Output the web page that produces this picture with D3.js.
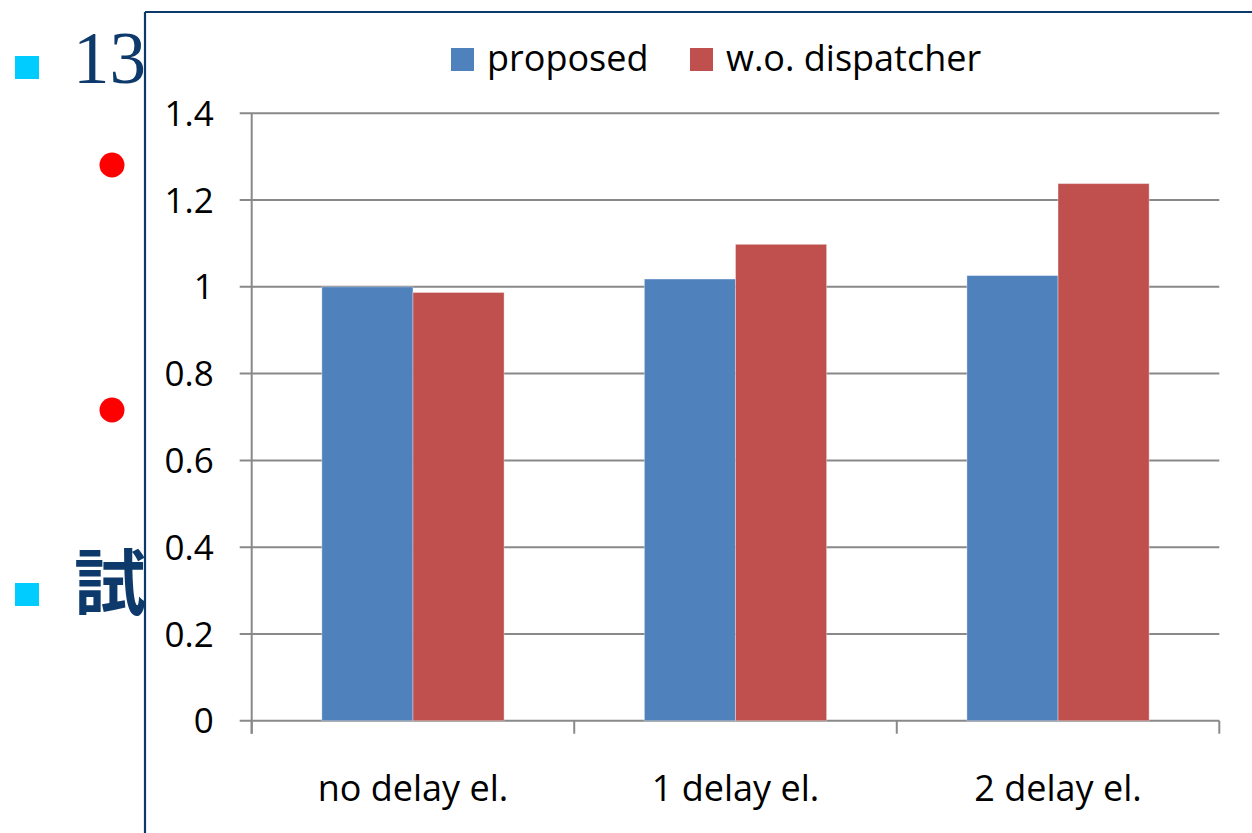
<!DOCTYPE html>
<html>
<head>
<meta charset="utf-8">
<script src="https://cdn.jsdelivr.net/npm/d3@7"></script>
<style>
  html, body { margin: 0; padding: 0; background: #fff; }
  svg { display: block; }
</style>
</head>
<body>
<svg id="slide" width="1252" height="833"></svg>
<script>
// Relative runtime per configuration
const categories = ["no delay el.", "1 delay el.", "2 delay el."];
const seriesNames = ["proposed", "w.o. dispatcher"];
const proposed = [1.0, 1.018, 1.026];
const woDispatcher = [0.987, 1.098, 1.238];
const yTicks = [0, 0.2, 0.4, 0.6, 0.8, 1, 1.2, 1.4];
const yTickLabels = ["0", "0.2", "0.4", "0.6", "0.8", "1", "1.2", "1.4"];
const seriesColors = ["#4F81BD", "#C0504D"];

const svg = d3.select("#slide");
const navy = "#0E3A6B";
const latin = "'Open Sans', 'Noto Sans', sans-serif";

// Slide bullets and text behind the chart frame
svg.append("rect").attr("x", 15).attr("y", 56).attr("width", 24).attr("height", 23).attr("fill", "#00CCFF");
svg.append("rect").attr("x", 15).attr("y", 583).attr("width", 24).attr("height", 23).attr("fill", "#00CCFF");
svg.append("circle").attr("cx", 112).attr("cy", 165).attr("r", 12.5).attr("fill", "#FF0000");
svg.append("circle").attr("cx", 112).attr("cy", 410).attr("r", 12.5).attr("fill", "#FF0000");
svg.append("text").attr("x", 73).attr("y", 83)
  .attr("font-family", "'Liberation Serif', 'DejaVu Serif', serif")
  .attr("font-size", 73).attr("fill", navy).text("13");
svg.append("text").attr("x", 74).attr("y", 609)
  .attr("font-family", "'Noto Sans CJK JP', 'Noto Sans CJK SC', sans-serif")
  .attr("font-weight", "bold")
  .attr("font-size", 72).attr("fill", navy).text("試");

// Chart frame
const frame = svg.append("g");
frame.append("rect").attr("x", 145).attr("y", 12).attr("width", 1252 - 145).attr("height", 833 - 12).attr("fill", "#fff");
frame.append("line").attr("x1", 145).attr("x2", 1252).attr("y1", 12).attr("y2", 12)
  .attr("stroke", navy).attr("stroke-width", 2.2);
frame.append("line").attr("x1", 145).attr("x2", 145).attr("y1", 12).attr("y2", 833)
  .attr("stroke", navy).attr("stroke-width", 2.2);

// Plot area
const plotLeft = 251.7, plotRight = 1219.3, plotTop = 113.3, plotBottom = 720.7;
const gridColor = "#898989";

const y = d3.scaleLinear().domain([0, 1.4]).range([plotBottom, plotTop]);
const x0 = d3.scaleBand().domain(categories).range([plotLeft, plotRight]).paddingInner(0).paddingOuter(0);
const x1 = d3.scaleBand().domain(seriesNames).range([0, x0.bandwidth()]).paddingInner(0).paddingOuter(0.77);

const plot = svg.append("g");

// Horizontal gridlines with short outer ticks
plot.selectAll("line.grid").data(yTicks).join("line")
  .attr("class", "grid")
  .attr("x1", plotLeft - 12).attr("x2", plotRight)
  .attr("y1", d => y(d)).attr("y2", d => y(d))
  .attr("stroke", gridColor).attr("stroke-width", 2);

// Vertical axis line
plot.append("line").attr("x1", plotLeft).attr("x2", plotLeft)
  .attr("y1", y(1.4)).attr("y2", plotBottom + 13)
  .attr("stroke", gridColor).attr("stroke-width", 2);

// Y tick labels
plot.selectAll("text.ylab").data(yTicks).join("text")
  .attr("class", "ylab")
  .attr("x", plotLeft - 38).attr("y", d => y(d))
  .attr("dy", "0.36em")
  .attr("text-anchor", "end")
  .attr("font-family", latin).attr("font-size", 35).attr("fill", "#000")
  .text((d, i) => yTickLabels[i]);

// X category boundary ticks
const boundaries = categories.map(c => x0(c)).concat([x0(categories[categories.length - 1]) + x0.bandwidth()]);
plot.selectAll("line.xtick").data(boundaries).join("line")
  .attr("class", "xtick")
  .attr("x1", d => d).attr("x2", d => d)
  .attr("y1", plotBottom).attr("y2", plotBottom + 13)
  .attr("stroke", gridColor).attr("stroke-width", 2);

// Bars
const rows = categories.map((c, i) => ({ cat: c, vals: [proposed[i], woDispatcher[i]] }));
const groups = plot.selectAll("g.cat").data(rows).join("g")
  .attr("class", "cat")
  .attr("transform", d => `translate(${x0(d.cat)},0)`);
groups.selectAll("rect").data(d => d.vals.map((v, j) => ({ name: seriesNames[j], v, j })))
  .join("rect")
  .attr("x", d => x1(d.name))
  .attr("width", x1.bandwidth())
  .attr("y", d => y(d.v))
  .attr("height", d => y(0) - y(d.v))
  .attr("fill", d => seriesColors[d.j])
  .attr("stroke", "rgba(255,255,255,0.35)")
  .attr("stroke-width", 1);

// Category labels
plot.selectAll("text.xlab").data(categories).join("text")
  .attr("class", "xlab")
  .attr("x", d => x0(d) + x0.bandwidth() / 2)
  .attr("y", 801)
  .attr("text-anchor", "middle")
  .attr("font-family", latin).attr("font-size", 36).attr("fill", "#000")
  .text(d => d);

// Legend
const legendX = [451, 690];
const legend = svg.append("g");
seriesNames.forEach((name, i) => {
  legend.append("rect").attr("x", legendX[i]).attr("y", 48).attr("width", 23).attr("height", 23)
    .attr("fill", seriesColors[i]);
  legend.append("text").attr("x", legendX[i] + 36).attr("y", 71)
    .attr("font-family", latin).attr("font-size", 36).attr("fill", "#000")
    .text(name);
});
</script>
</body>
</html>
